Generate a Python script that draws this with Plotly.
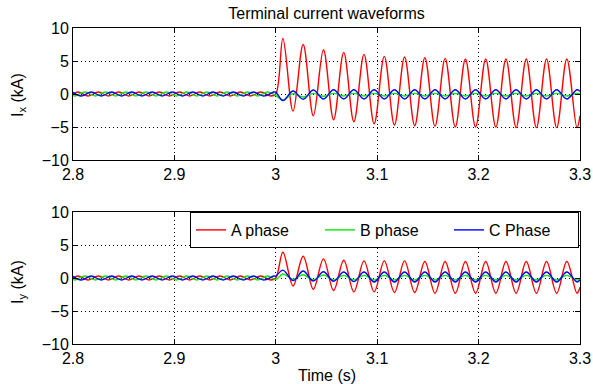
import plotly.graph_objects as go
from plotly.subplots import make_subplots

# ---------------- data (extrema) ----------------
# pre-fault section (2.8 s .. 3.0 s), identical in both panels
T_PRE_A = [2.8, 2.805, 2.815, 2.825, 2.835, 2.845, 2.855, 2.865, 2.875, 2.885, 2.895,
           2.905, 2.915, 2.925, 2.935, 2.945, 2.955, 2.965, 2.975, 2.985, 2.995, 3.0]
V_PRE_A = [0.0, 0.3, -0.3, 0.3, -0.3, 0.3, -0.3, 0.3, -0.3, 0.3, -0.3,
           0.3, -0.3, 0.3, -0.3, 0.3, -0.3, 0.3, -0.3, 0.3, -0.3, 0.0]
T_PRE_B = [2.8, 2.802, 2.812, 2.822, 2.832, 2.842, 2.852, 2.862, 2.872, 2.882, 2.892,
           2.902, 2.912, 2.922, 2.932, 2.942, 2.952, 2.962, 2.972, 2.982, 2.992, 3.0]
V_PRE_B = [-0.24, -0.3, 0.3, -0.3, 0.3, -0.3, 0.3, -0.3, 0.3, -0.3, 0.3,
           -0.3, 0.3, -0.3, 0.3, -0.3, 0.3, -0.3, 0.3, -0.3, 0.3, -0.24]
T_PRE_C = [2.8, 2.808, 2.818, 2.828, 2.838, 2.848, 2.858, 2.868, 2.878, 2.888, 2.898,
           2.908, 2.918, 2.928, 2.938, 2.948, 2.958, 2.968, 2.978, 2.988, 2.998, 3.0]
V_PRE_C = [0.26, -0.3, 0.3, -0.3, 0.3, -0.3, 0.3, -0.3, 0.3, -0.3, 0.3,
           -0.3, 0.3, -0.3, 0.3, -0.3, 0.3, -0.3, 0.3, -0.3, 0.3, 0.29]

# post-fault section (3.0 s .. 3.3 s): extremum times
T_POST = [3.007, 3.017, 3.027, 3.037, 3.047, 3.057, 3.067, 3.077, 3.087, 3.097,
          3.107, 3.117, 3.127, 3.137, 3.147, 3.157, 3.167, 3.177, 3.187, 3.197,
          3.207, 3.217, 3.227, 3.237, 3.247, 3.257, 3.267, 3.277, 3.287, 3.297, 3.3]

# Ix panel (kA)
IX_A = [8.4, -2.6, 7.5, -3.3, 6.7, -3.9, 6.3, -4.2, 6.0, -4.5, 5.7, -4.7, 5.6, -4.8, 5.5,
        -4.9, 5.4, -5.0, 5.3, -5.0, 5.3, -5.0, 5.3, -5.1, 5.3, -5.1, 5.3, -5.1, 5.3, -5.1, -3.3]
IX_B = [-0.9, 0.05, -0.45, 0.1, -0.35, 0.1, -0.3, 0.1, -0.3, 0.1, -0.3, 0.1, -0.3, 0.1, -0.3,
        0.1, -0.3, 0.1, -0.3, 0.1, -0.3, 0.1, -0.3, 0.1, -0.3, 0.1, -0.3, 0.1, -0.3, 0.1, 0.0]
IX_C = [-1.0, 0.45, -0.8, 0.6, -0.75, 0.65, -0.75, 0.65, -0.75, 0.65, -0.75, 0.65, -0.75, 0.65, -0.75,
        0.65, -0.75, 0.65, -0.75, 0.65, -0.75, 0.65, -0.75, 0.65, -0.75, 0.65, -0.75, 0.65, -0.75, 0.65, 0.4]

# Iy panel (kA)
IY_A = [3.9, -1.2, 3.3, -1.7, 2.9, -1.9, 2.7, -2.1, 2.6, -2.1, 2.6, -2.2, 2.6, -2.2, 2.5,
        -2.3, 2.5, -2.3, 2.5, -2.3, 2.5, -2.3, 2.5, -2.3, 2.5, -2.3, 2.5, -2.3, 2.5, -2.3, -1.4]
IY_B = [0.6, -0.2, 0.5, -0.3, 0.45, -0.3, 0.4, -0.3, 0.4, -0.3, 0.4, -0.3, 0.4, -0.3, 0.4,
        -0.3, 0.4, -0.3, 0.4, -0.3, 0.4, -0.3, 0.4, -0.3, 0.4, -0.3, 0.4, -0.3, 0.4, -0.3, -0.15]
IY_C = [1.2, -0.4, 1.05, -0.45, 0.95, -0.5, 0.9, -0.55, 0.9, -0.6, 0.9, -0.6, 0.9, -0.6, 0.9,
        -0.6, 0.9, -0.6, 0.9, -0.6, 0.9, -0.6, 0.9, -0.6, 0.9, -0.6, 0.9, -0.6, 0.9, -0.6, -0.3]

NAMES = ["A phase", "B phase", "C Phase"]
COLORS = ["#ff0000", "#00ee00", "#0000ff"]
X_TICKS = [2.8, 2.9, 3.0, 3.1, 3.2, 3.3]
X_TICK_TEXT = ["2.8", "2.9", "3", "3.1", "3.2", "3.3"]
Y_TICKS = [-10, -5, 0, 5, 10]
Y_TICK_TEXT = ["\u221210", "\u22125", "0", "5", "10"]
TITLE = "Terminal current waveforms"
Y_TITLES = ["I<sub>x</sub> (kA)", "I<sub>y</sub> (kA)"]
X_TITLE = "Time (s)"

# ---------------- figure ----------------
fig = make_subplots(rows=2, cols=1, vertical_spacing=0.0)
pre = [(T_PRE_A, V_PRE_A), (T_PRE_B, V_PRE_B), (T_PRE_C, V_PRE_C)]
panels = [(IX_A, IX_B, IX_C), (IY_A, IY_B, IY_C)]

for r, series in enumerate(panels, start=1):
    for k, post_vals in enumerate(series):
        t = pre[k][0] + T_POST
        v = pre[k][1] + post_vals
        fig.add_trace(go.Scatter(
            x=t, y=v, mode="lines", name=NAMES[k],
            line=dict(color=COLORS[k], width=1.4, shape="spline", smoothing=1.0),
            showlegend=(r == 2)), row=r, col=1)

FONT = "Liberation Sans, Arial, sans-serif"
axis_common = dict(showline=True, linecolor="black", linewidth=1, mirror="ticks",
                   ticks="inside", ticklen=5, tickcolor="black", automargin=False,
                   showgrid=True, gridcolor="black", gridwidth=1, griddash="1px,3px",
                   zeroline=False, tickfont=dict(family=FONT, size=16, color="black"))

W, H = 593, 384
L, R, top, bot = 73, 13, 28, 40
pw, ph = W - L - R, H - top - bot
bottom_top = 1 - (212 - top) / ph


def px_x(x):
    return (x - L) / pw


def px_y(y):
    return 1 - (y - top) / ph


fig.update_layout(
    template="none",
    width=W, height=H,
    margin=dict(l=L, r=R, t=top, b=bot, autoexpand=False),
    paper_bgcolor="white", plot_bgcolor="white",
    font=dict(family=FONT, size=16, color="black"),
    yaxis=dict(domain=[px_y(160), 1.0]),
    yaxis2=dict(domain=[0.0, bottom_top]),
    title=dict(text=TITLE, x=(L + 580) / 2 / W, xanchor="center",
               y=1 - 13 / H, yanchor="middle", font=dict(size=16)),
    legend=dict(orientation="h", xref="container", x=190 / W, xanchor="left",
                y=bottom_top, yanchor="top",
                bgcolor="white", bordercolor="black", borderwidth=1,
                font=dict(family=FONT, size=16), entrywidth=84, tracegroupgap=0),
    showlegend=True,
)
for ax in ["xaxis", "xaxis2"]:
    fig.layout[ax].update(range=[2.8, 3.3], tickvals=X_TICKS, ticktext=X_TICK_TEXT, **axis_common)
for ax in ["yaxis", "yaxis2"]:
    fig.layout[ax].update(range=[-10, 10], tickvals=Y_TICKS, ticktext=Y_TICK_TEXT, **axis_common)

# axis titles as paper-positioned annotations (stable placement)
fig.add_annotation(text=Y_TITLES[0], textangle=-90, xref="paper", yref="paper",
                   x=px_x(18), y=px_y(95), xanchor="center", yanchor="middle",
                   showarrow=False, font=dict(size=16))
fig.add_annotation(text=Y_TITLES[1], textangle=-90, xref="paper", yref="paper",
                   x=px_x(18), y=px_y(282), xanchor="center", yanchor="middle",
                   showarrow=False, font=dict(size=16))
fig.add_annotation(text=X_TITLE, xref="paper", yref="paper",
                   x=px_x(327), y=px_y(375), xanchor="center", yanchor="middle",
                   showarrow=False, font=dict(size=16))

fig.write_html("out.html")
